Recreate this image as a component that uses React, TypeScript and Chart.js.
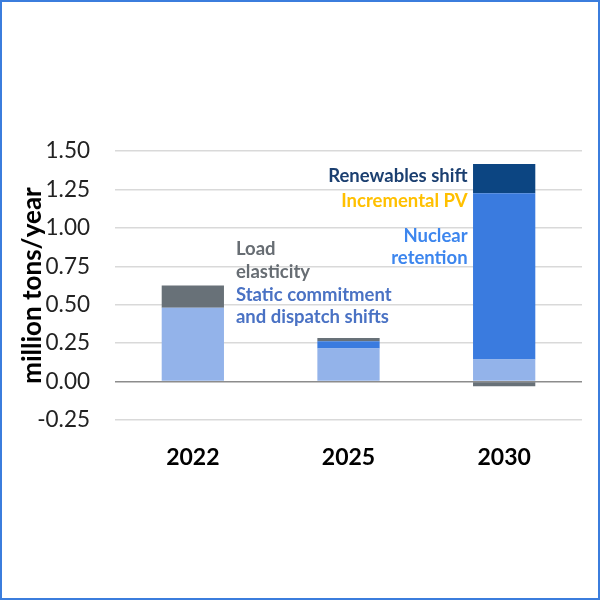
import React, { useEffect, useRef } from "react";
import { Chart, registerables } from "chart.js";

Chart.register(...registerables);

const categories = ["2022", "2025", "2030"];
const staticCommitment = [0.48, 0.215, 0.143];
const nuclearRetention = [0, 0.047, 1.082];
const incrementalPV = [0, 0, 0];
const renewablesShift = [0, 0, 0.19];
const loadElasticity = [0.145, 0.022, -0.03];

const yMin = -0.25;
const yMax = 1.5;
const yStep = 0.25;

// annotation text lines: text, colour, x (category units), y (data units), align
const noteTexts = [
  "Load",
  "elasticity",
  "Static commitment",
  "and dispatch shifts",
  "Renewables shift",
  "Incremental PV",
  "Nuclear",
  "retention",
];
const noteColors = [
  "#676d73",
  "#676d73",
  "#4a72c4",
  "#4a72c4",
  "#1b3f70",
  "#ffc000",
  "#3d86ee",
  "#3d86ee",
];
const noteX = [0.277, 0.277, 0.277, 0.277, 1.765, 1.765, 1.765, 1.765];
const noteY = [0.825, 0.675, 0.521, 0.383, 1.3, 1.138, 0.911, 0.766];
const noteAlign = ["left", "left", "left", "left", "right", "right", "right", "right"];

const notesPlugin = {
  id: "notes",
  afterDatasetsDraw(chart: any) {
    const { ctx } = chart;
    const xs = chart.scales.x;
    const ys = chart.scales.y;
    ctx.save();
    ctx.font = "bold 18.5px Lato";
    ctx.textBaseline = "alphabetic";
    noteTexts.forEach((t, i) => {
      ctx.fillStyle = noteColors[i];
      ctx.textAlign = noteAlign[i];
      ctx.fillText(t, xs.getPixelForValue(noteX[i]), ys.getPixelForValue(noteY[i]));
    });
    ctx.restore();
  },
};

export default function App() {
  const ref = useRef<HTMLCanvasElement>(null);
  useEffect(() => {
    const chart = new Chart(ref.current as HTMLCanvasElement, {
      type: "bar",
      data: {
        labels: categories,
        datasets: [
          { label: "Static commitment and dispatch shifts", data: staticCommitment, backgroundColor: "#93b3ea" },
          { label: "Nuclear retention", data: nuclearRetention, backgroundColor: "#3a7bdf" },
          { label: "Incremental PV", data: incrementalPV, backgroundColor: "#ffc000" },
          { label: "Renewables shift", data: renewablesShift, backgroundColor: "#0c4582" },
          { label: "Load elasticity", data: loadElasticity, backgroundColor: "#687178" },
        ],
      },
      options: {
        animation: false,
        responsive: true,
        maintainAspectRatio: false,
        layout: { padding: { left: 17, right: 18, top: 151, bottom: 120 } },
        datasets: { bar: { categoryPercentage: 1, barPercentage: 0.4 } },
        plugins: { legend: { display: false }, tooltip: { enabled: false } },
        scales: {
          x: {
            stacked: true,
            grid: { display: false, drawTicks: false },
            border: { display: false },
            ticks: { color: "#000", padding: 24, font: { family: "Lato", size: 23, weight: "bold" } },
            afterFit: (s: any) => {
              s.height = 60;
            },
          },
          y: {
            stacked: true,
            min: yMin,
            max: yMax,
            border: { display: false },
            grid: {
              drawTicks: false,
              color: (c: any) => (c.tick && c.tick.value === 0 ? "#8c8c8c" : "#d9d9d9"),
              lineWidth: 1.5,
            },
            ticks: {
              stepSize: yStep,
              padding: 25,
              color: "#222",
              font: { family: "Lato", size: 22.5 },
              callback: (v: any) => Number(v).toFixed(2),
            },
            title: {
              display: true,
              text: "million tons/year",
              color: "#000",
              padding: 0,
              font: { family: "Lato", size: 26, weight: "bold" },
            },
            afterFit: (s: any) => {
              s.width = 98;
            },
          },
        },
      },
      plugins: [notesPlugin],
    } as any);
    return () => chart.destroy();
  }, []);
  return (
    <div style={{ position: "absolute", left: 0, top: 0, width: 600, height: 600, background: "#fff" }}>
      <canvas ref={ref} />
      <div
        style={{
          position: "absolute",
          inset: 0,
          border: "2px solid #3b7ddd",
          boxSizing: "border-box",
          pointerEvents: "none",
        }}
      />
    </div>
  );
}
